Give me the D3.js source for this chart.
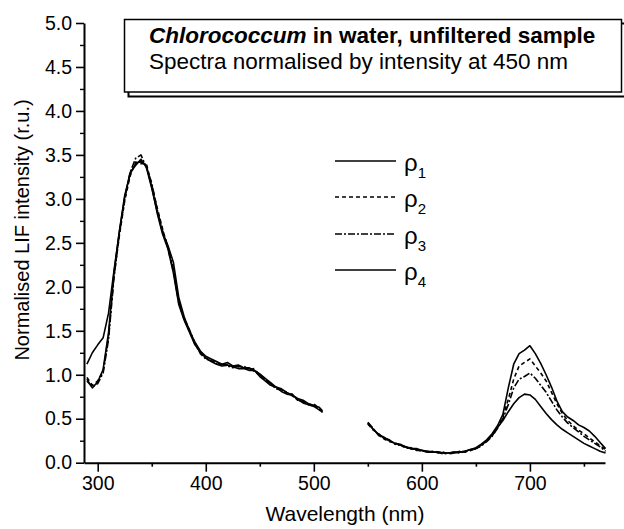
<!DOCTYPE html>
<html>
<head>
<meta charset="utf-8">
<script src="https://cdn.jsdelivr.net/npm/d3@7"></script>
<style>
  body { margin: 0; background: #fff; }
  svg { display: block; font-family: "Liberation Sans", Arial, sans-serif; }
</style>
</head>
<body>
<div id="chart"></div>
<script>
// wavelengths (nm), UV/blue part and red part of the spectrum
const wavelengthA = [290, 295, 300, 305, 310, 315, 320, 325, 330, 335, 340, 345, 350, 355, 360,
  365, 370, 375, 380, 385, 390, 395, 400, 405, 410, 415, 420, 425, 430, 435, 440, 445, 450,
  455, 460, 465, 470, 475, 480, 485, 490, 495, 500, 505, 508];
const wavelengthB = [550, 555, 560, 565, 570, 575, 580, 585, 590, 595, 600, 605, 610, 615, 620,
  625, 630, 635, 640, 645, 650, 655, 660, 665, 670, 675, 680, 685, 690, 695, 700, 705, 710,
  715, 720, 725, 730, 735, 740, 745, 750, 755, 760, 765, 770];

const rho1A = [1.12, 1.25, 1.34, 1.42, 1.70, 2.18, 2.62, 3.02, 3.30, 3.38, 3.45, 3.36, 3.12, 2.86, 2.62,
  2.47, 2.28, 1.88, 1.66, 1.50, 1.37, 1.27, 1.21, 1.18, 1.15, 1.12, 1.14, 1.10, 1.11, 1.08, 1.08, 1.05, 1.01,
  0.96, 0.91, 0.86, 0.84, 0.80, 0.77, 0.73, 0.71, 0.67, 0.65, 0.63, 0.59];
const rho2A = [0.97, 0.88, 0.93, 1.04, 1.44, 2.12, 2.58, 2.98, 3.26, 3.42, 3.40, 3.40, 3.16, 2.90, 2.66,
  2.44, 2.18, 1.82, 1.63, 1.49, 1.35, 1.25, 1.19, 1.16, 1.14, 1.11, 1.12, 1.09, 1.09, 1.10, 1.06, 1.07, 0.99,
  0.95, 0.89, 0.85, 0.82, 0.79, 0.78, 0.71, 0.70, 0.66, 0.67, 0.61, 0.58];
const rho3A = [0.93, 0.86, 0.90, 1.02, 1.40, 2.10, 2.60, 3.00, 3.30, 3.46, 3.50, 3.36, 3.18, 2.88, 2.64,
  2.45, 2.20, 1.84, 1.64, 1.51, 1.36, 1.24, 1.18, 1.16, 1.13, 1.12, 1.10, 1.08, 1.10, 1.08, 1.07, 1.04, 1.00,
  0.94, 0.90, 0.84, 0.83, 0.80, 0.76, 0.72, 0.69, 0.67, 0.65, 0.62, 0.57];
const rho4A = [0.95, 0.85, 0.92, 1.06, 1.48, 2.15, 2.63, 3.04, 3.28, 3.40, 3.43, 3.38, 3.14, 2.84, 2.60,
  2.43, 2.16, 1.80, 1.62, 1.48, 1.34, 1.26, 1.19, 1.15, 1.12, 1.10, 1.11, 1.09, 1.07, 1.07, 1.05, 1.05, 0.98,
  0.93, 0.88, 0.86, 0.81, 0.78, 0.77, 0.72, 0.68, 0.66, 0.64, 0.60, 0.58];

const rho1B = [0.45, 0.38, 0.32, 0.28, 0.25, 0.22, 0.20, 0.18, 0.16, 0.15, 0.14, 0.13, 0.12, 0.12, 0.11,
  0.11, 0.12, 0.12, 0.13, 0.15, 0.17, 0.21, 0.26, 0.33, 0.42, 0.55, 0.85, 1.12, 1.24, 1.28, 1.33, 1.24, 1.13,
  1.00, 0.86, 0.70, 0.58, 0.52, 0.48, 0.43, 0.40, 0.36, 0.30, 0.23, 0.16];
const rho2B = [0.44, 0.37, 0.33, 0.27, 0.24, 0.23, 0.19, 0.18, 0.17, 0.14, 0.14, 0.12, 0.13, 0.11, 0.12,
  0.10, 0.11, 0.13, 0.12, 0.14, 0.16, 0.20, 0.25, 0.31, 0.40, 0.52, 0.72, 0.95, 1.10, 1.14, 1.18, 1.10, 1.02,
  0.93, 0.80, 0.67, 0.56, 0.48, 0.42, 0.37, 0.33, 0.28, 0.24, 0.19, 0.15];
const rho3B = [0.46, 0.39, 0.31, 0.28, 0.26, 0.21, 0.20, 0.17, 0.16, 0.15, 0.13, 0.13, 0.12, 0.12, 0.10,
  0.11, 0.12, 0.11, 0.13, 0.14, 0.16, 0.19, 0.24, 0.30, 0.39, 0.50, 0.66, 0.85, 0.95, 0.98, 1.02, 0.96, 0.88,
  0.80, 0.70, 0.60, 0.52, 0.45, 0.40, 0.35, 0.30, 0.26, 0.22, 0.18, 0.13];
const rho4B = [0.45, 0.38, 0.32, 0.29, 0.25, 0.22, 0.21, 0.18, 0.16, 0.16, 0.14, 0.12, 0.12, 0.12, 0.11,
  0.11, 0.11, 0.12, 0.13, 0.15, 0.16, 0.20, 0.25, 0.31, 0.40, 0.48, 0.58, 0.67, 0.74, 0.78, 0.77, 0.72, 0.64,
  0.56, 0.49, 0.43, 0.38, 0.34, 0.30, 0.26, 0.22, 0.19, 0.16, 0.13, 0.11];

const seriesNames = ["1", "2", "3", "4"];
const seriesA = [rho1A, rho2A, rho3A, rho4A];
const seriesB = [rho1B, rho2B, rho3B, rho4B];

const xTicks = [300, 400, 500, 600, 700];
const xMinorTicks = [350, 450, 550, 650, 750];
const yTicks = [0, 0.5, 1, 1.5, 2, 2.5, 3, 3.5, 4, 4.5, 5];
const yMinorTicks = [0.25, 0.75, 1.25, 1.75, 2.25, 2.75, 3.25, 3.75, 4.25, 4.75];

const dashes = [null, "4,3", "7,2,2,2", null];

const width = 624, height = 529;

const svg = d3.select("#chart")
  .append("svg")
  .attr("width", width)
  .attr("height", height);

const x = d3.scaleLinear().domain([287.3, 769.5]).range([84, 605]);
const y = d3.scaleLinear().domain([0, 5]).range([462.7, 23]);

// minor ticks first, then the main axes over them
svg.append("g")
  .attr("transform", `translate(0,${y(0)})`)
  .call(d3.axisBottom(x).tickValues(xMinorTicks).tickSize(4).tickFormat(""))
  .call(g => g.select(".domain").remove())
  .selectAll("line").attr("stroke-width", 1.6);

svg.append("g")
  .attr("transform", `translate(${x.range()[0]},0)`)
  .call(d3.axisLeft(y).tickValues(yMinorTicks).tickSize(4).tickFormat(""))
  .call(g => g.select(".domain").remove())
  .selectAll("line").attr("stroke-width", 1.4);

const xAxis = svg.append("g")
  .attr("transform", `translate(0,${y(0)})`)
  .call(d3.axisBottom(x).tickValues(xTicks).tickSize(9).tickSizeOuter(0).tickPadding(4));

const yAxis = svg.append("g")
  .attr("transform", `translate(${x.range()[0]},0)`)
  .call(d3.axisLeft(y).tickValues(yTicks).tickSize(8).tickSizeOuter(0).tickPadding(4)
    .tickFormat(d3.format(".1f")));

[xAxis, yAxis].forEach(g => {
  g.select(".domain").attr("stroke-width", 2);
  g.selectAll(".tick line").attr("stroke-width", 1.6);
  g.selectAll("text")
    .attr("font-family", "Liberation Sans, Arial, sans-serif")
    .attr("font-size", 19.5)
    .attr("fill", "#000");
});

// axis titles
svg.append("text")
  .attr("x", 345)
  .attr("y", 521)
  .attr("text-anchor", "middle")
  .attr("font-size", 21)
  .text("Wavelength (nm)");

svg.append("text")
  .attr("transform", "translate(29,230) rotate(-90)")
  .attr("text-anchor", "middle")
  .attr("font-size", 20)
  .text("Normalised LIF intensity (r.u.)");

// spectra
const line = d3.line()
  .x(d => x(d[0]))
  .y(d => y(d[1]));

const curves = svg.append("g")
  .attr("fill", "none")
  .attr("stroke", "#000")
  .attr("stroke-width", 1.6)
  .attr("stroke-linejoin", "round");

seriesNames.forEach((name, i) => {
  [[wavelengthA, seriesA[i]], [wavelengthB, seriesB[i]]].forEach(([wl, vals]) => {
    curves.append("path")
      .attr("d", line(d3.zip(wl, vals)))
      .attr("stroke-dasharray", dashes[i]);
  });
});

// legend
const legendY = [161, 197, 234, 270];
const legend = svg.append("g")
  .selectAll("g")
  .data(seriesNames)
  .join("g")
  .attr("transform", (d, i) => `translate(0,${legendY[i]})`);

legend.append("line")
  .attr("x1", 335).attr("x2", 396)
  .attr("stroke", "#000")
  .attr("stroke-width", 1.5)
  .attr("stroke-dasharray", (d, i) => dashes[i]);

const lt = legend.append("text")
  .attr("x", 404)
  .attr("y", 10)
  .attr("font-size", 24);
lt.append("tspan").text("ρ");
lt.append("tspan")
  .attr("font-size", 15)
  .attr("dy", 7)
  .text(d => d);

// title box with offset shadow
svg.append("rect")
  .attr("x", 128.5).attr("y", 23.5)
  .attr("width", 498).attr("height", 73)
  .attr("fill", "none")
  .attr("stroke", "#000")
  .attr("stroke-width", 2);

svg.append("rect")
  .attr("x", 124.5).attr("y", 19.5)
  .attr("width", 497).attr("height", 72.5)
  .attr("fill", "#fff")
  .attr("stroke", "#000")
  .attr("stroke-width", 1.5);

const t1 = svg.append("text")
  .attr("x", 149)
  .attr("y", 42.5)
  .attr("font-size", 22.5)
  .attr("font-weight", "bold");
t1.append("tspan").attr("font-style", "italic").text("Chlorococcum");
t1.append("tspan").text(" in water, unfiltered sample");

svg.append("text")
  .attr("x", 149)
  .attr("y", 68.5)
  .attr("font-size", 22.5)
  .text("Spectra normalised by intensity at 450 nm");
</script>
</body>
</html>
